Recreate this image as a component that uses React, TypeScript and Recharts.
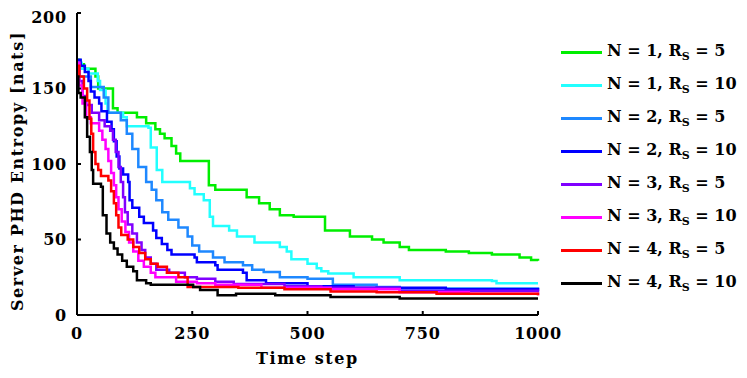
import React from 'react';
import {Line, LineChart, XAxis, YAxis} from 'recharts';

// [time step, entropy] pairs, drawn as step lines
const n1r5: [number, number][] = [[0, 169], [5, 166], [15, 163], [40, 158], [46, 150], [78, 137], [88, 134], [130, 131], [150, 127], [170, 123], [180, 120], [190, 117], [205, 112], [215, 107], [224, 102], [286, 86], [300, 83], [368, 78], [395, 74], [418, 70], [440, 66], [470, 65], [538, 56], [592, 52], [640, 50], [665, 48], [700, 45], [720, 43], [800, 42], [850, 41], [900, 40], [960, 38], [985, 36.5], [1000, 36]];
const n1r10: [number, number][] = [[0, 167], [10, 163], [25, 160], [45, 155], [50, 149], [62, 140], [66, 134], [100, 131], [108, 125], [155, 124], [160, 111], [173, 96], [185, 88], [245, 84], [255, 80], [275, 76], [288, 65], [295, 59], [330, 56], [347, 52], [385, 48], [440, 45], [455, 42], [465, 37], [500, 34], [520, 31], [530, 29], [545, 27.5], [600, 25], [700, 23], [900, 22.5], [910, 21], [1000, 21]];
const n2r5: [number, number][] = [[0, 167], [5, 158], [30, 151], [58, 144], [68, 134], [95, 129], [108, 120], [120, 110], [133, 98], [150, 88], [162, 83], [172, 76], [185, 68], [198, 63], [220, 58], [240, 52], [250, 46], [265, 42], [295, 38], [320, 35], [360, 33], [380, 30], [405, 28.5], [440, 25], [500, 24], [555, 20], [650, 18.5], [700, 17.5], [1000, 17]];
const n2r10: [number, number][] = [[0, 169], [8, 165], [17, 161], [25, 155], [30, 148], [38, 144], [48, 140], [53, 135], [65, 128], [75, 123], [80, 115], [86, 105], [92, 97], [100, 93], [111, 88], [114, 76], [120, 71], [135, 65], [145, 61], [165, 56], [172, 51], [184, 47], [196, 43], [205, 40], [255, 38], [260, 35], [300, 33], [305, 30], [360, 28], [368, 23], [410, 21], [500, 19], [600, 18], [800, 17], [1000, 16]];
const n3r5: [number, number][] = [[0, 167], [5, 155], [12, 145], [20, 139], [32, 134], [48, 129], [60, 125], [72, 122], [78, 116], [84, 108], [90, 98], [95, 88], [100, 78], [104, 68], [110, 60], [120, 54], [130, 48], [140, 43], [148, 38], [160, 34], [172, 30], [200, 28], [234, 25], [260, 24], [300, 22], [340, 20.5], [450, 19], [530, 18], [700, 16], [1000, 15]];
const n3r10: [number, number][] = [[0, 167], [5, 152], [12, 140], [20, 131], [30, 127], [48, 122], [55, 116], [62, 110], [68, 102], [74, 94], [80, 86], [85, 78], [90, 70], [97, 62], [105, 55], [113, 48], [122, 42], [133, 36], [145, 32], [160, 28], [170, 25], [215, 22], [260, 21], [300, 20], [400, 18], [550, 17], [700, 15], [850, 14], [1000, 13]];
const n4r5: [number, number][] = [[0, 165], [5, 158], [15, 150], [22, 142], [27, 130], [31, 120], [35, 108], [40, 100], [46, 96], [52, 92], [68, 89], [74, 82], [80, 74], [85, 66], [90, 58], [96, 53], [110, 50], [122, 45], [135, 41], [148, 37], [160, 34], [175, 32], [195, 28], [220, 25], [240, 18.5], [350, 18], [450, 17], [550, 15.5], [650, 15], [780, 14], [1000, 13]];
const n4r10: [number, number][] = [[0, 158], [3, 147], [8, 144], [17, 131], [22, 118], [28, 108], [32, 96], [35, 87], [52, 85], [56, 66], [64, 54], [72, 48], [80, 44], [88, 40], [98, 36], [108, 32], [122, 29], [130, 23], [150, 21], [160, 20], [252, 18.5], [267, 16.5], [305, 13], [345, 14], [430, 13], [550, 12], [700, 11], [1000, 11]];

const xTicks = [0, 250, 500, 750, 1000];
const yTicks = [0, 50, 100, 150, 200];

const series = [
	{name: 'n1r5', n: 1, rs: 5, color: '#00ee00', points: n1r5},
	{name: 'n1r10', n: 1, rs: 10, color: '#22ffff', points: n1r10},
	{name: 'n2r5', n: 2, rs: 5, color: '#1e88ff', points: n2r5},
	{name: 'n2r10', n: 2, rs: 10, color: '#0000ff', points: n2r10},
	{name: 'n3r5', n: 3, rs: 5, color: '#8000ff', points: n3r5},
	{name: 'n3r10', n: 3, rs: 10, color: '#ff00ff', points: n3r10},
	{name: 'n4r5', n: 4, rs: 5, color: '#ff0000', points: n4r5},
	{name: 'n4r10', n: 4, rs: 10, color: '#000000', points: n4r10},
];

const font = '"DejaVu Serif", serif';
const tickStyle = {fontFamily: font, fontWeight: 700, fontSize: 16, letterSpacing: 0.8, fill: '#000'};
const labelStyle = {fontFamily: font, fontWeight: 700, fontSize: 16, letterSpacing: 1.6, fill: '#000'};

const YLabel = () => (
	<text x={9} y={163} transform="rotate(-90 9 163)" textAnchor="middle" dominantBaseline="central" style={labelStyle}>
		Server PHD Entropy [nats]
	</text>
);

export default function App() {
	return <div style={{position: 'relative', width: 739, height: 370, fontFamily: font}}>
		<LineChart width={739} height={370} margin={{top: 5, right: 209, bottom: 0, left: 0}}>
			<XAxis xAxisId="b" type="number" dataKey="t" domain={[0, 1000]} ticks={xTicks} stroke="#000" strokeWidth={2}
				tickSize={-4} tickMargin={17} tick={tickStyle} height={63}
				label={{value: 'Time step', position: 'insideBottom', offset: 14, style: labelStyle}}/>
			<XAxis xAxisId="t" orientation="top" type="number" dataKey="t" domain={[0, 1000]} ticks={xTicks} stroke="#000" strokeWidth={2}
				tickSize={-4} tickFormatter={() => ''} height={0}/>
			<YAxis yAxisId="l" type="number" domain={[0, 200]} ticks={yTicks} stroke="#000" strokeWidth={2}
				tickSize={-4} tickMargin={14} tick={tickStyle} width={69} label={{content: () => <YLabel/>}}/>
			<YAxis yAxisId="r" orientation="right" type="number" domain={[0, 200]} ticks={yTicks} stroke="#000" strokeWidth={2}
				tickSize={-4} tickFormatter={() => ''} width={0}/>
			{series.map(s => <Line key={s.name} xAxisId="b" yAxisId="l" type="stepAfter"
				data={s.points.map(([t, v]) => ({t, v}))} dataKey="v" stroke={s.color} strokeWidth={2.5}
				dot={false} isAnimationActive={false}/>)}
		</LineChart>
		<div style={{position: 'absolute', left: 553, top: 28}}>
			{series.map(s => <div key={s.name} style={{display: 'flex', alignItems: 'center', height: 33}}>
				<div style={{width: 41, height: 3, background: s.color, marginRight: 5}}/>
				<span style={{fontWeight: 700, fontSize: 16, whiteSpace: 'nowrap'}}>
					N = {s.n}, R<sub style={{fontSize: 11}}>S</sub> = {s.rs}
				</span>
			</div>)}
		</div>
	</div>;
}
